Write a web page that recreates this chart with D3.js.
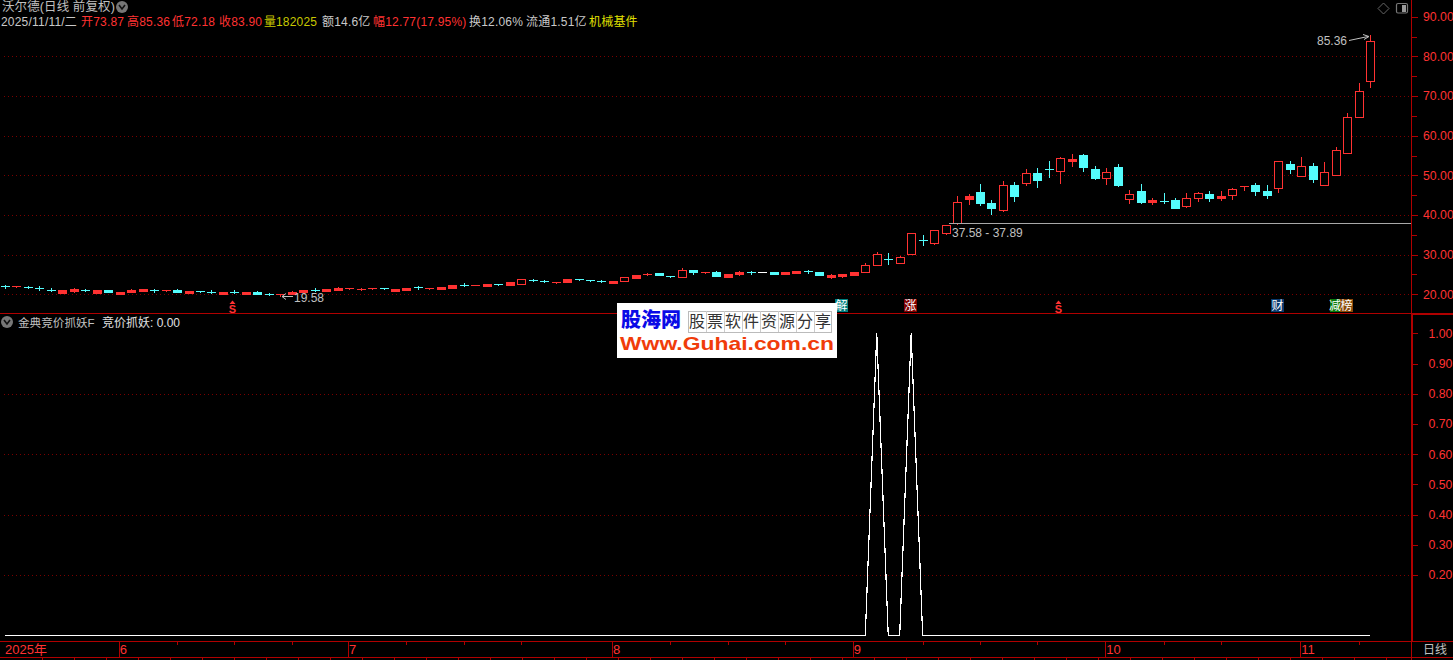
<!DOCTYPE html>
<html><head><meta charset="utf-8">
<style>
html,body{margin:0;padding:0;background:#000;overflow:hidden}
svg{display:block}
text{font-family:"Liberation Sans","Noto Sans CJK SC",sans-serif;font-size:12px}
</style>
<script src="https://cdn.jsdelivr.net/npm/d3@7"></script>
</head><body><svg id="c" width="1453" height="660"></svg>
<script>
// open, high, low, close per trading day
const opens=[22.0,21.85,21.85,21.7,21.15,20.4,20.75,21.05,20.45,21.1,20.1,20.6,20.85,21.05,20.95,21.1,20.4,20.75,20.7,20.1,20.7,20.2,20.55,20.15,19.75,20.0,20.6,21.2,20.9,21.2,21.45,21.25,21.3,21.6,20.95,21.2,21.8,
21.45,21.45,21.7,22.35,22.3,22.2,22.55,22.4,22.7,23.6,23.4,22.95,23.2,23.8,23.5,23.4,22.95,23.45,24.2,24.95,25.3,24.55,24.45,26.1,25.45,25.7,24.45,25.0,25.55,25.55,25.65,25.2,25.45,25.8,25.7,
24.45,24.7,24.95,25.7,27.45,29.0,28.0,30.25,33.7,33.0,35.55,37.9,44.0,45.8,43.0,41.35,47.45,48.15,50.6,51.6,51.15,53.6,55.1,51.6,49.4,52.1,
43.95,45.95,43.3,43.6,43.7,42.35,44.35,45.2,44.3,44.95,47.0,47.45,45.95,46.7,52.85,49.9,52.35,47.5,50.15,55.7,64.8,73.87];
const highs=[22.35,22.2,22.15,22.1,21.5,21.05,21.5,21.35,21.15,21.15,20.65,21.3,21.35,21.4,21.05,21.4,20.85,20.85,21.0,20.55,21.05,20.65,20.75,20.4,20.15,20.85,21.05,21.55,21.4,21.75,21.6,21.65,21.65,21.65,21.35,21.55,22.1,
21.55,21.95,22.4,22.75,22.4,22.65,22.55,23.15,23.95,23.95,23.6,23.0,23.9,23.85,23.55,23.7,23.4,24.35,24.9,25.25,25.35,24.6,26.55,26.1,25.6,25.75,25.15,25.75,25.9,25.6,25.7,25.65,26.0,26.15,25.7,
25.05,25.2,25.6,27.8,30.65,30.4,29.55,35.4,34.95,36.1,37.5,44.8,45.3,47.8,43.75,48.55,48.3,51.6,51.85,53.6,54.6,55.4,55.45,52.35,51.85,52.85,
46.3,47.8,44.3,45.55,44.3,45.55,45.7,45.95,45.95,46.7,47.4,48.05,47.55,53.7,53.6,54.7,53.1,53.35,57.15,65.7,73.25,85.36];
const lows=[21.5,21.8,21.7,21.1,20.85,20.35,20.7,20.75,20.4,20.55,20.05,20.55,20.8,20.6,20.9,20.65,20.35,20.7,20.25,20.05,20.35,20.15,20.1,19.85,19.58,19.95,20.55,20.85,20.85,21.15,21.4,21.0,21.25,21.3,20.9,21.15,21.4,
21.4,21.3,21.65,22.0,22.25,22.15,22.45,22.35,22.65,23.25,23.0,22.9,23.15,23.6,23.3,23.05,22.9,23.4,24.15,24.9,24.75,24.45,24.4,25.1,25.4,24.55,24.4,24.95,25.2,25.5,25.15,25.15,25.4,25.45,24.85,
24.03,24.35,24.9,25.65,27.4,27.55,27.95,30.2,32.4,32.7,35.2,37.85,42.8,42.6,40.25,41.1,43.5,47.65,47.1,49.65,48.15,52.4,51.1,49.05,47.8,47.3,
43.1,43.0,42.85,43.1,41.85,42.0,43.55,43.6,43.85,44.05,46.4,45.1,44.35,45.9,50.65,49.9,48.4,47.5,50.15,55.7,64.8,72.18];
const closes=[21.95,22.1,21.8,21.3,21.1,21.0,21.3,21.0,21.1,20.6,20.6,21.0,21.3,21.0,21.05,20.7,20.8,20.7,20.3,20.5,20.4,20.6,20.1,20.05,20.1,20.7,21.0,21.15,21.3,21.6,21.55,21.35,21.6,21.3,21.3,21.5,21.7,
21.55,21.9,22.35,22.3,22.35,22.6,22.5,23.1,23.85,23.55,23.3,23.0,23.85,23.65,23.4,23.35,23.35,24.3,24.85,25.2,24.8,24.5,26.1,25.55,25.5,24.6,25.1,25.7,25.5,25.55,25.2,25.6,25.95,25.75,24.9,
24.9,25.1,25.55,27.3,30.25,29.0,29.3,35.4,33.7,36.1,37.4,43.2,44.8,43.0,41.75,47.45,44.85,50.5,48.8,51.55,54.3,54.1,52.1,49.3,50.75,47.55,
45.4,43.35,43.8,43.55,41.85,44.35,45.45,44.35,44.7,46.45,47.2,46.1,45.1,53.7,51.6,52.25,49.05,50.75,56.3,64.6,71.2,83.9];
// indicator values (竞价抓妖) — 1 on two days, otherwise 0
const signalDays=[76,79];
const signalValues=d3.range(120).map(i=>signalDays.includes(i)?1:0);
const priceTicks=[20,30,40,50,60,70,80,90];
const priceMinor=[25,35,45,55,65,75,85];
const signalTicks=[0.2,0.3,0.4,0.5,0.6,0.7,0.8,0.9,1.0];
const signalGrid=[0.2,0.4,0.6,0.8];
const months=[{i:0,t:"2025年"},{i:10,t:"6"},{i:30,t:"7"},{i:53,t:"8"},{i:74,t:"9"},{i:96,t:"10"},{i:113,t:"11"}];
const weekTicks=[15,20,25,35,40,45,58,63,68,80,85,90,101,106,118];
const sMarks=[20,92];
const tags=[{t:"解",c:"#007f7f"},{t:"涨",c:"#800000"},{t:"财",c:"#0a3a6e"},{t:"减",c:"#0a7a0a"},{t:"榜",c:"#8a4a0a"}];
const headerRow=[[1,"2025/11/11/二","#c8c8c8"],[81,"开73.87","#ff3232"],[127,"高85.36","#ff3232"],[172,"低72.18","#ff3232"],[219,"收83.90","#ff3232"],[264,"量","#c8c800"],[276,"182025","#c8c800"],[322,"额14.6亿","#c8c8c8"],[373,"幅12.77(17.95%)","#ff3232"],[469,"换12.06%","#c8c8c8"],[526,"流通1.51亿","#c8c8c8"],[589,"机械基件","#e0e000"]];
const logoChars="股票软件资源分享".split("");

const RED="#ff3232",CYAN="#54fcfc",AX="#b00000",GRID="#7a0000",TXT="#c0c0c0";
const svg=d3.select("#c");
svg.append("rect").attr("width",1453).attr("height",660).attr("fill","#000");
const x=d3.scaleLinear().domain([0,119]).range([5,1370]);
const y=d3.scaleLinear().domain([20,90]).range([294.3,16.7]);
const ys=d3.scaleLinear().domain([0,1]).range([635.5,333.3]);
const px=v=>Math.round(v)+.5;

const g=svg.append("g").attr("shape-rendering","crispEdges");
// gridlines
g.selectAll(".gp").data(priceTicks.filter(d=>d<90)).join("line").attr("x1",4).attr("x2",1411)
 .attr("y1",d=>px(y(d))).attr("y2",d=>px(y(d))).attr("stroke",GRID).attr("stroke-dasharray","1,3");
g.selectAll(".gs").data(signalGrid).join("line").attr("x1",4).attr("x2",1411)
 .attr("y1",d=>px(ys(d))).attr("y2",d=>px(ys(d))).attr("stroke",GRID).attr("stroke-dasharray","1,3");

// frame
const fr=(a,b,c,d,w)=>g.append("line").attr("x1",a).attr("y1",b).attr("x2",c).attr("y2",d).attr("stroke",AX).attr("stroke-width",w||1);
fr(0,313.5,1453,313.5);
fr(1411,314,1453,314,2);
fr(1411.5,0,1411.5,313);
fr(1412,313,1412,641,2);
fr(1411.5,641,1411.5,660);
fr(0,641.5,1453,641.5);
fr(0,657.5,1453,657.5);

// candles
const data=opens.map((o,i)=>({i,o,h:highs[i],l:lows[i],c:closes[i]}));
const cg=g.append("g");
data.forEach(d=>{
  const up=d.c>d.o, cx=Math.round(x(d.i))+.5;
  const col=d.i===66?"#ffffff":(up?RED:CYAN);
  const top=Math.round(y(Math.max(d.o,d.c))), bot=Math.round(y(Math.min(d.o,d.c)));
  cg.append("line").attr("x1",cx).attr("x2",cx).attr("y1",Math.round(y(d.h))).attr("y2",Math.round(y(d.l))+1).attr("stroke",col);
  if(bot-top<=1){
    cg.append("rect").attr("x",cx-4.5).attr("width",9).attr("y",top).attr("height",Math.max(1,bot-top)).attr("fill",col);
  }else if(up){
    cg.append("rect").attr("x",cx-4).attr("width",8).attr("y",top+.5).attr("height",bot-top).attr("fill",(bot-top<=3)?col:"#000").attr("stroke",col);
  }else{
    cg.append("rect").attr("x",cx-4.5).attr("width",9).attr("y",top).attr("height",bot-top+1).attr("fill",col);
  }
});

// gap line + annotations
g.append("line").attr("x1",949).attr("x2",1411).attr("y1",px(y(37.89))).attr("y2",px(y(37.89))).attr("stroke","#a8a8a8");
const T=(xx,yy,t,col,anchor,fs)=>svg.append("text").attr("x",xx).attr("y",yy).attr("fill",col||TXT).attr("text-anchor",anchor||"start").style("font-size",(fs||12)+"px").text(t);
T(952,237,"37.58 - 37.89",TXT);
T(1317,45,"85.36",TXT);
T(294,302,"19.58",TXT);
svg.append("path").attr("d",`M1349 40.5 L1368 36.5 M1363 34.5 L1369 36.5 L1364 39.5`).attr("stroke","#c0c0c0").attr("fill","none");
svg.append("path").attr("d",`M293 296.5 H282 L286 293.5 M282 296.5 L286 299.5`).attr("stroke","#c0c0c0").attr("fill","none");

// price axis
const ax1=d3.axisRight(y).tickValues(priceTicks).tickSize(6).tickFormat(d3.format(".2f"));
const a1=svg.append("g").attr("transform","translate(1411.5,0)").call(ax1);
a1.select(".domain").remove();
a1.selectAll("line").attr("stroke",AX).attr("shape-rendering","crispEdges");
a1.selectAll("text").attr("x",11.5).attr("fill",RED).style("font-size","12.3px");
g.selectAll(".pm").data(priceMinor).join("line").attr("x1",1412).attr("x2",1417).attr("y1",d=>px(y(d))).attr("y2",d=>px(y(d))).attr("stroke",AX);

// signal axis
const ax2=d3.axisRight(ys).tickValues(signalTicks).tickSize(5).tickFormat(d3.format(".2f"));
const a2=svg.append("g").attr("transform","translate(1412.5,0)").call(ax2);
a2.select(".domain").remove();
a2.selectAll("line").attr("stroke",AX).attr("shape-rendering","crispEdges");
a2.selectAll("text").attr("x",16).attr("fill",RED).style("font-size","12.3px");

// signal line
svg.append("path").datum(signalValues)
 .attr("d",d3.line().x((d,i)=>x(i)).y(d=>ys(d)))
 .attr("fill","none").attr("stroke","#fff").attr("stroke-width",1.2).attr("shape-rendering","crispEdges");

// date bar
g.selectAll(".md").data(months.slice(1)).join("line").attr("x1",d=>px(x(d.i)-1)).attr("x2",d=>px(x(d.i)-1)).attr("y1",641).attr("y2",657).attr("stroke",AX);
g.selectAll(".wk").data(weekTicks).join("line").attr("x1",d=>px(x(d))).attr("x2",d=>px(x(d))).attr("y1",642).attr("y2",645).attr("stroke",AX);
g.selectAll(".bt").data(d3.range(42,1410,32)).join("line").attr("x1",d=>d+.5).attr("x2",d=>d+.5).attr("y1",657).attr("y2",660).attr("stroke",AX);
svg.selectAll(".ml").data(months).join("text").attr("x",d=>x(d.i)).attr("y",654).attr("fill",RED).style("font-size","13px").text(d=>d.t);
T(1423,654,"日线",TXT,"start",12);

// S markers
sMarks.forEach(i=>{
  const cx=Math.round(x(i))+.5-2;
  svg.append("path").attr("d",`M${cx-3} 304 L${cx} 300.5 L${cx+3} 304 Z`).attr("fill",RED);
  T(cx,312.5,"S",RED,"middle",11).style("font-weight","700");
});
// tags
const tagLeft={"解":835,"涨":904,"财":1271,"减":1330,"榜":1340};
tags.forEach(d=>{
  const left=tagLeft[d.t], w=d.t==="减"?10:13;
  g.append("rect").attr("x",left).attr("y",299).attr("width",w).attr("height",13).attr("fill",d.c);
  T(left+w/2,310,d.t,"#fff","middle",12);
});

// header
T(2,11,"沃尔德(日线 前复权)",TXT,"start",12.5).style("letter-spacing",".1px");
headerRow.forEach(r=>T(r[0],26,r[1],r[2],"start",12).style("letter-spacing",".2px"));
T(18,327,"金典竞价抓妖F",TXT,"start",11.6);
T(102,327,"竞价抓妖: 0.00","#e0e0e0","start",12);
// chevrons
[[122,7],[7,322]].forEach(p=>{
  svg.append("circle").attr("cx",p[0]).attr("cy",p[1]).attr("r",6).attr("fill","#777");
  svg.append("path").attr("d",`M${p[0]-3} ${p[1]-2} L${p[0]} ${p[1]+2} L${p[0]+3} ${p[1]-2}`).attr("stroke","#111").attr("stroke-width",1.6).attr("fill","none");
});
// top right icons
svg.append("path").attr("d","M1383.5 3 L1389 8.5 L1383.5 14 L1378 8.5 Z").attr("fill","none").attr("stroke","#666");
svg.append("rect").attr("x",1396.5).attr("y",3.5).attr("width",11).attr("height",9.5).attr("rx",1.5).attr("fill","none").attr("stroke","#777").attr("stroke-width",1.2);
svg.append("rect").attr("x",1402).attr("y",5).attr("width",4).attr("height",7).attr("fill","#999");

// watermark
const L=svg.append("g");
L.append("rect").attr("x",617).attr("y",303).attr("width",220).attr("height",55).attr("fill","#fff");
L.append("text").attr("x",621).attr("y",327).attr("fill","#0a0ae6").style("font-size","20px").style("font-weight","900").style("font-family","'Noto Sans CJK SC'").text("股海网");
L.append("rect").attr("x",688.5).attr("y",311.5).attr("width",143).attr("height",21).attr("fill","#fff").attr("stroke","#bbb").attr("shape-rendering","crispEdges");
logoChars.forEach((c,i)=>{
  const lx=688+i*18;
  if(i) L.append("line").attr("x1",lx+.5).attr("x2",lx+.5).attr("y1",311).attr("y2",332).attr("stroke","#ccc").attr("shape-rendering","crispEdges");
  L.append("text").attr("x",lx+9).attr("y",327).attr("text-anchor","middle").attr("fill","#333").style("font-size","16px").style("font-family","'Noto Sans CJK SC'").text(c);
});
L.append("text").attr("x",620).attr("y",350).attr("fill","#f03c0a").style("font-size","19px").style("font-weight","700").attr("textLength",214).attr("lengthAdjust","spacingAndGlyphs").text("Www.Guhai.com.cn");
</script></body></html>
